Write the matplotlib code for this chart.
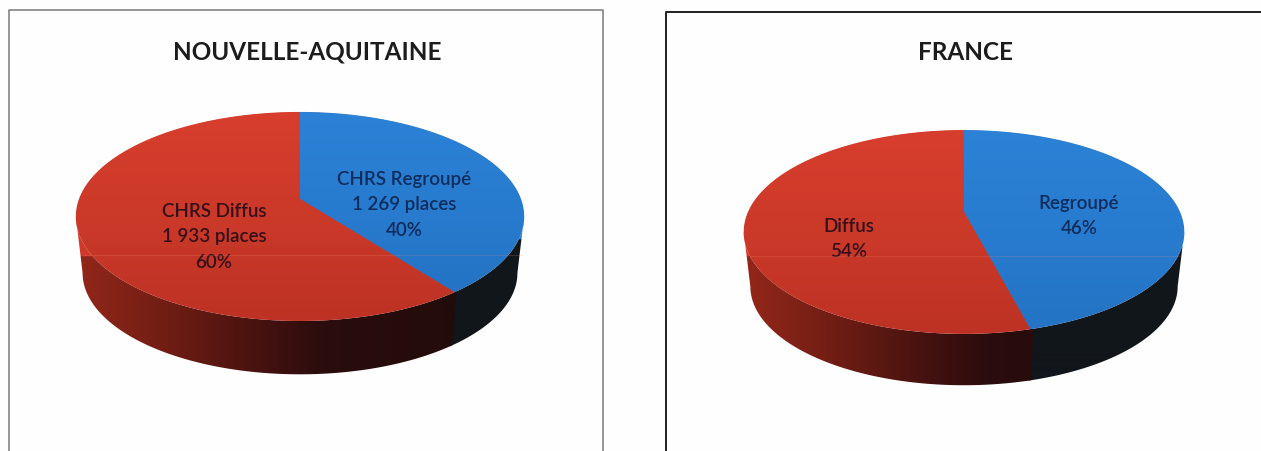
#!/usr/bin/env python3
import numpy as np
import matplotlib

matplotlib.use("Agg")
import matplotlib.pyplot as plt
from matplotlib.colors import LinearSegmentedColormap
from matplotlib.patches import Polygon

plt.rcParams["font.family"] = ["Lato", "DejaVu Sans"]

# values, clockwise from 12 o'clock
na_title = "NOUVELLE-AQUITAINE"
na_values = [1269, 1933]
na_labels = ["CHRS Regroupé\n1 269 places\n40%", "CHRS Diffus\n1 933 places\n60%"]

fr_title = "FRANCE"
fr_values = [46, 54]
fr_labels = ["Regroupé\n46%", "Diffus\n54%"]

top_cmaps = [
    LinearSegmentedColormap.from_list("blue", ["#2b82d6", "#287ccf", "#2473c4"]),
    LinearSegmentedColormap.from_list("red", ["#d83e2d", "#cb3929", "#bd3224"]),
]
top_sides = [np.array([36, 122, 205]) / 255, np.array([208, 58, 42]) / 255]
text_colors = ["#0f2c5c", "#35101a"]

# wall shade of the red slice, from the left of the disc to the right
wall_stops = [0.0, 0.2, 0.45, 0.55, 1.0]
wall_r = [150, 115, 62, 42, 30]
wall_g = [40, 30, 16, 13, 12]
wall_b = [26, 20, 15, 12, 10]
blue_wall = np.array([17, 22, 27]) / 255


def project(theta, px, py, a, b, k):
    # tilted disc seen in perspective: the near side comes out bigger
    u, v = np.sin(theta), np.cos(theta)
    w = 1 + k * v
    return px + a * u / w, py - b * v / w


def pie_3d(ax, values, px, py, a, b, k, depth, cuts):
    fracs = np.array(values, dtype=float) / sum(values)
    edges = np.concatenate([[0], np.cumsum(fracs)]) * 2 * np.pi
    shrink = 0.97

    x_lo, x_hi = px - a - 12, px + a + 12
    y_lo, y_hi = py - 20, py + depth + b * 1.4
    nx, ny = int(x_hi - x_lo), int(y_hi - y_lo)
    gx = np.linspace(0, 1, nx)
    gy = np.linspace(y_lo, y_hi, ny)

    # side wall, only the part between the two widest points shows
    th_ext = np.arccos(-k)
    for i in range(len(values)):
        # small overlap so no white hairline shows between the slices
        th = np.linspace(
            max(edges[i] - 0.012, th_ext), min(edges[i + 1], 2 * np.pi - th_ext), 300
        )
        xt, yt = project(th, px, py, a, b, k)
        xb, yb = project(th, px, py + depth, a * shrink, b * shrink, k)
        pts = np.column_stack(
            [np.concatenate([xt, xb[::-1]]), np.concatenate([yt, yb[::-1]])]
        )
        poly = Polygon(pts, facecolor="none", edgecolor="none", zorder=2)
        ax.add_patch(poly)
        img = np.zeros((ny, nx, 3))
        if i == 0:
            img[:] = blue_wall
        else:
            img[:, :, 0] = np.interp(gx, wall_stops, wall_r) / 255
            img[:, :, 1] = np.interp(gx, wall_stops, wall_g) / 255
            img[:, :, 2] = np.interp(gx, wall_stops, wall_b) / 255
        # the wall only starts below the widest part of the disc
        img[gy < cuts[i]] = top_sides[i]
        im = ax.imshow(
            img, extent=(x_lo, x_hi, y_hi, y_lo), aspect="auto", zorder=2
        )
        im.set_clip_path(poly)

    # solid disc under the top face, hides the hairline at the slice edges
    th = np.linspace(0, 2 * np.pi, 400)
    xs, ys = project(th, px, py, a - 0.5, b - 0.5, k)
    ax.add_patch(
        Polygon(np.column_stack([xs, ys]), facecolor=top_sides[1], edgecolor="none", zorder=2.5)
    )

    # top face
    grad = np.linspace(0, 1, 256).reshape(-1, 1)
    for i in range(len(values)):
        th = np.linspace(edges[i], edges[i + 1], 300)
        xs, ys = project(th, px, py, a, b, k)
        pts = np.column_stack(
            [np.concatenate([[px], xs]), np.concatenate([[py], ys])]
        )
        poly = Polygon(pts, facecolor="none", edgecolor="none", zorder=3)
        ax.add_patch(poly)
        im = ax.imshow(
            grad,
            cmap=top_cmaps[i],
            extent=(xs.min() - 2, xs.max() + 2, ys.max() + 2, ys.min() - 2),
            aspect="auto",
            zorder=3,
        )
        im.set_clip_path(poly)


fig = plt.figure(figsize=(12.61, 4.52), dpi=100, facecolor="#fefefe")
ax = fig.add_axes([0, 0, 1, 1])

pie_3d(ax, na_values, 300, 200, 221, 101.6, 0.167, 57, [241, 258])
pie_3d(ax, fr_values, 964, 213, 216, 98, 0.196, 55, [249, 258])

ax.set_xlim(0, 1261)
ax.set_ylim(452, 0)
ax.axis("off")

# faint scan seam across both pies
ax.plot([84, 522], [255.5, 255.5], color="#ff9a78", lw=0.7, alpha=0.18, zorder=4)
ax.plot([750, 1181], [256.5, 256.5], color="#ff9a78", lw=0.7, alpha=0.18, zorder=4)

# panel frames, open where the scan cuts them off
ax.plot([8.5, 8.5, 602.5, 602.5], [452, 10.5, 10.5, 452], color="#7a7a7a", lw=1.1)
ax.plot([665.5, 665.5, 1261], [452, 12.5, 12.5], color="#202020", lw=1.4)

ax.text(307, 52, na_title, ha="center", va="center", fontsize=17.5,
        fontweight="bold", color="#1c1c1c")
ax.text(965, 53, fr_title, ha="center", va="center", fontsize=17.5,
        fontweight="bold", color="#1c1c1c")

label_kw = dict(ha="center", va="center", fontsize=13.5, linespacing=1.6,
                fontweight="semibold")
ax.text(404, 205, na_labels[0], color=text_colors[0], **label_kw)
ax.text(214, 237, na_labels[1], color=text_colors[1], **label_kw)
ax.text(1079, 216, fr_labels[0], color=text_colors[0], **label_kw)
ax.text(848.5, 239, fr_labels[1], color=text_colors[1], **label_kw)

fig.savefig("out.png", dpi=100, facecolor=fig.get_facecolor())
